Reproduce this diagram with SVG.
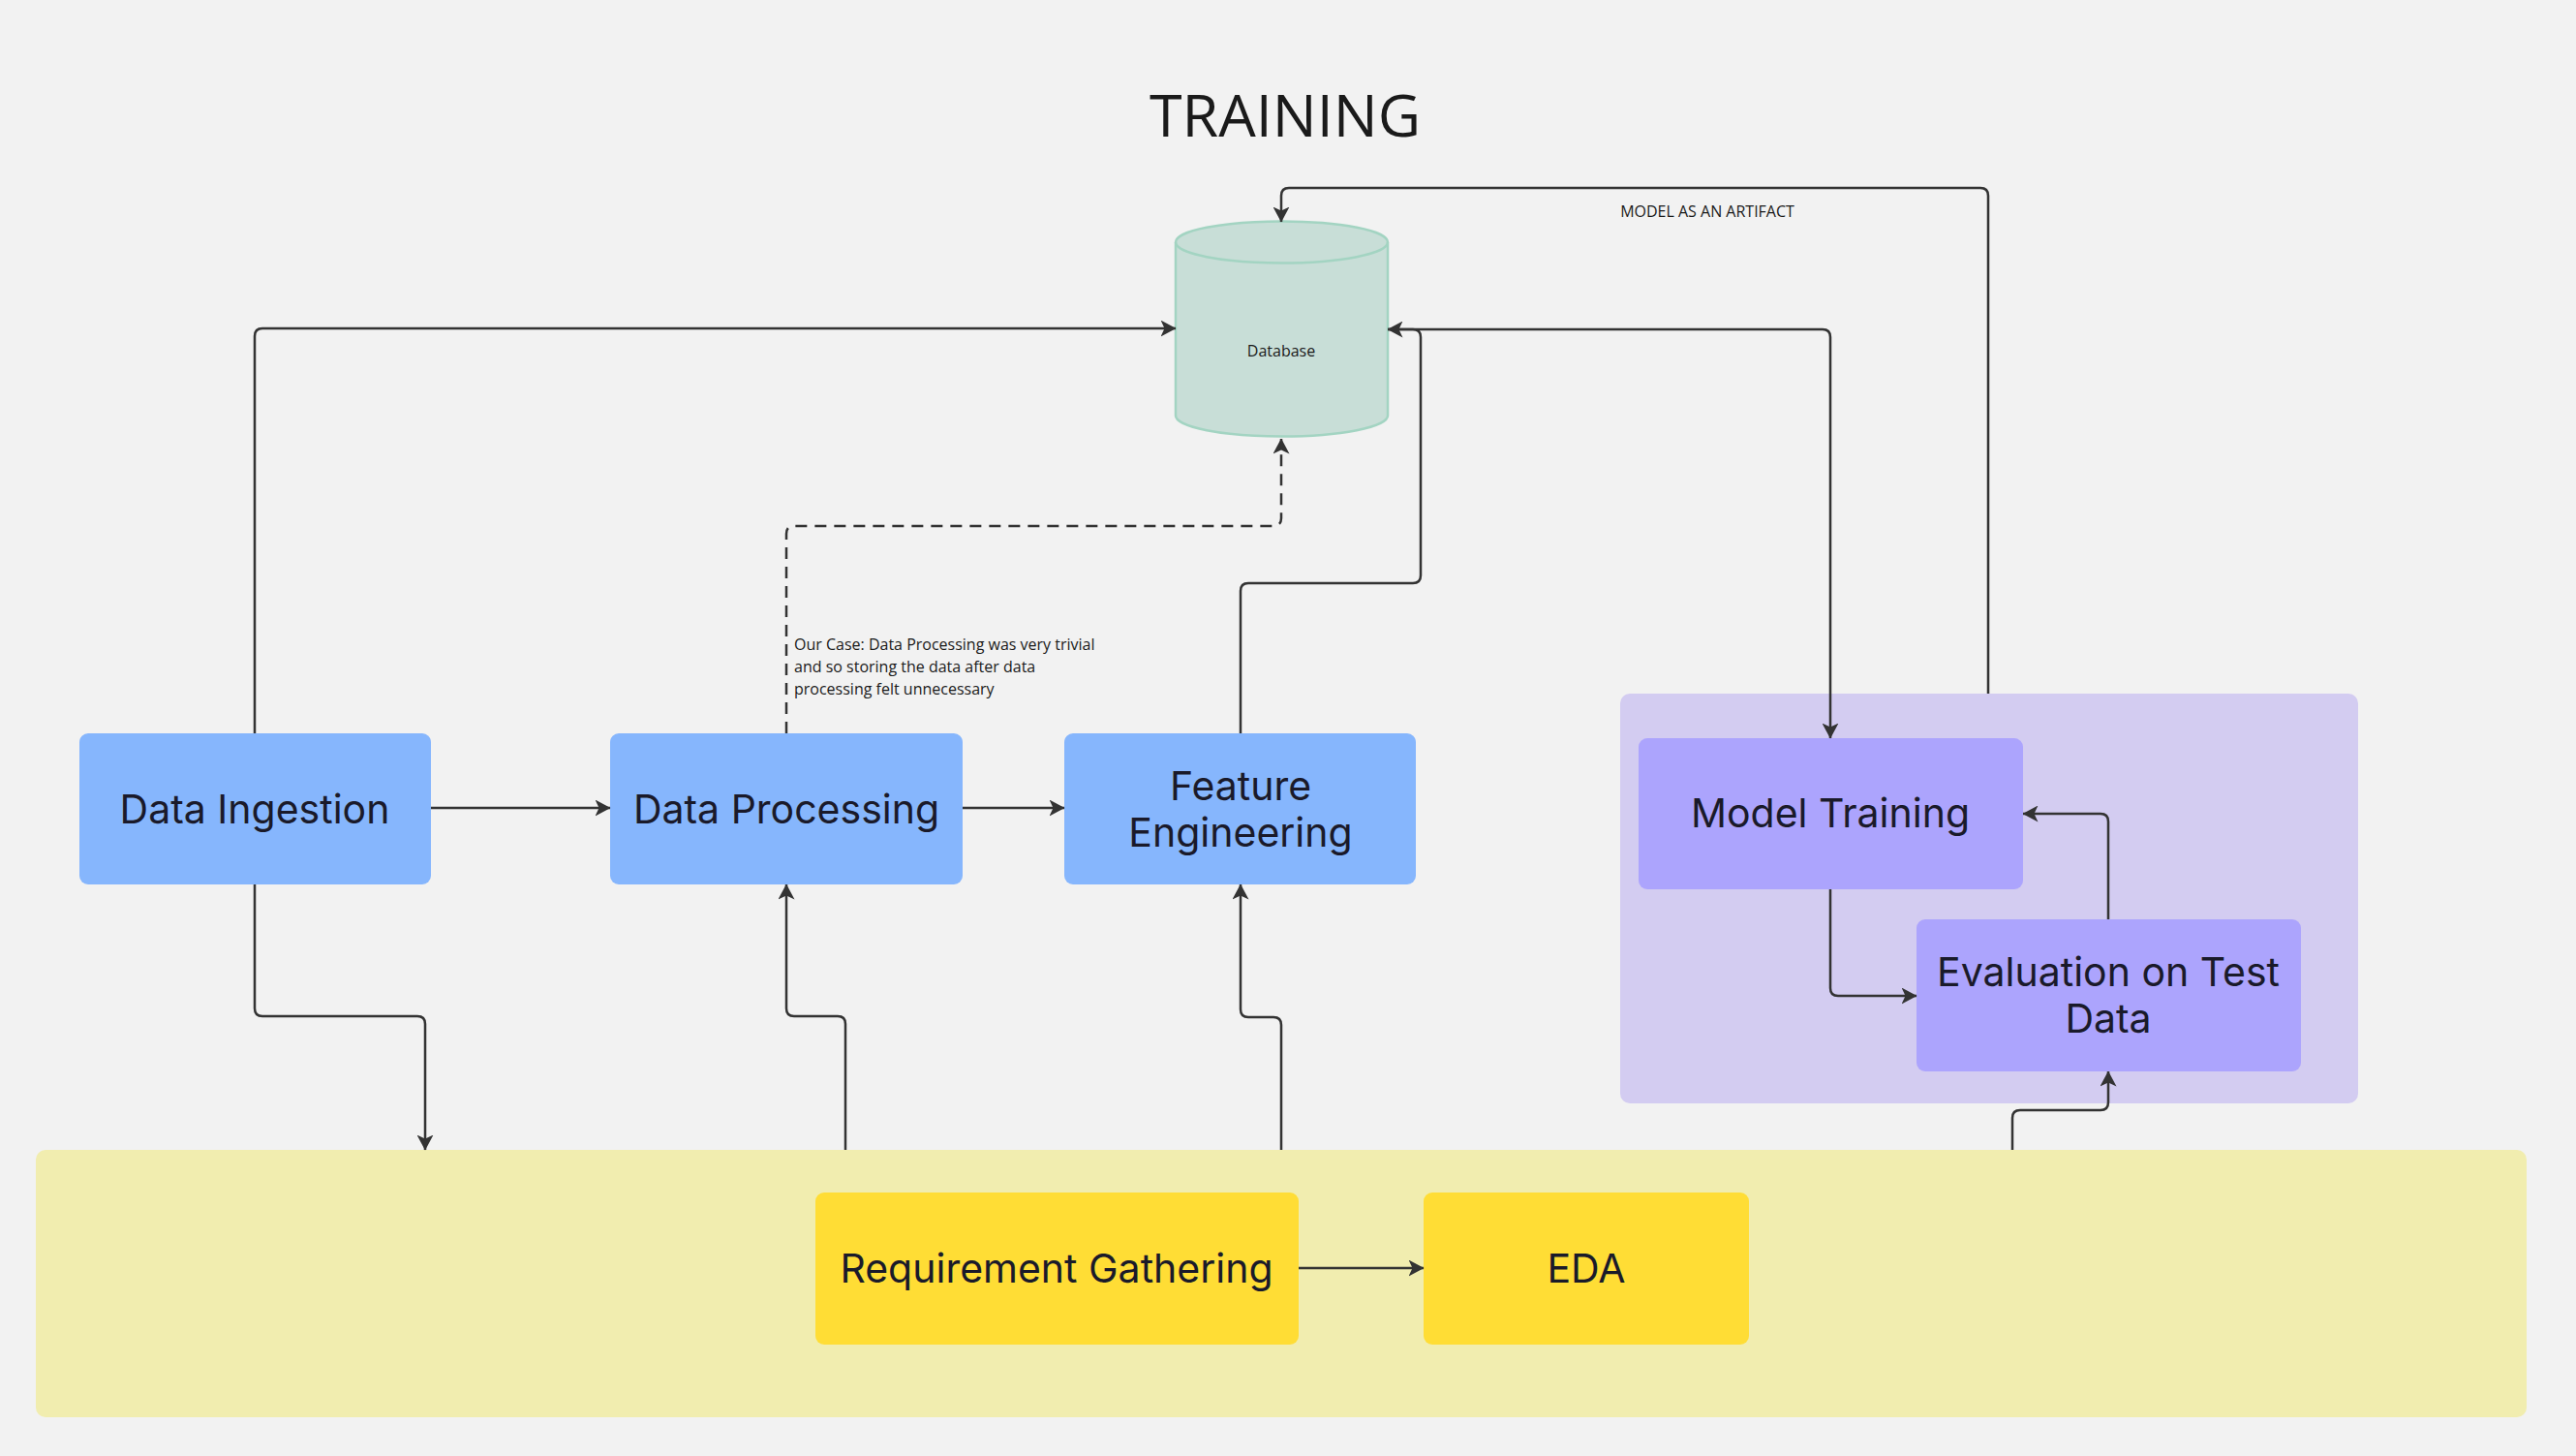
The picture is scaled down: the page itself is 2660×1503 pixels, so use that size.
<svg xmlns="http://www.w3.org/2000/svg" width="2660" height="1503" viewBox="0 0 2660 1503">
<defs>
<marker id="ah" viewBox="0 0 16 17" refX="15.5" refY="8.5" markerWidth="16" markerHeight="17" markerUnits="userSpaceOnUse" orient="auto">
<path d="M0,0 L16,8.5 L0,17 L4,8.5 z" fill="#333333"/>
</marker>
<style>
.bg{fill:#f2f2f2}
.lbl{font-family:Inter,"Noto Sans",sans-serif;font-size:41px;fill:#1a1a2a;text-anchor:middle}
.blue{fill:#86b6fd}
.purple{fill:#aca4fd}
.yellow{fill:#ffdd35}
.c{fill:none;stroke:#333333;stroke-width:2.5;marker-end:url(#ah)}
.dash{stroke-dasharray:12 8}
.small{font-family:"Open Sans",sans-serif;fill:#1a1a1a}
</style>
</defs>
<rect class="bg" x="0" y="0" width="2660" height="1503"/>
<text class="small" x="1327" y="141" font-size="61" text-anchor="middle">TRAINING</text>

<g id="training-group">
<rect x="1673" y="716" width="762" height="423" rx="10" fill="#d3ccf1"/>
</g>
<g id="eda-group">
<rect x="37" y="1187" width="2572" height="276" rx="10" fill="#f1edaf"/>
</g>

<g id="database">
<path d="M1214,250 V429 A109.5,21.5 0 0 0 1433,429 V250 A109.5,21.5 0 0 0 1214,250 Z" fill="#c8ded7" stroke="#a3d4c2" stroke-width="2.5"/>
<path d="M1214,250 A109.5,21.5 0 0 0 1433,250" fill="none" stroke="#a3d4c2" stroke-width="2.5"/>
<text class="small" x="1323" y="368" font-size="16" text-anchor="middle">Database</text>
</g>

<g id="data-ingestion">
<rect class="blue" x="82" y="757" width="363" height="156" rx="9"/>
<text class="lbl" x="263" y="850">Data Ingestion</text>
</g>
<g id="data-processing">
<rect class="blue" x="630" y="757" width="364" height="156" rx="9"/>
<text class="lbl" x="812" y="850">Data Processing</text>
</g>
<g id="feature-engineering">
<rect class="blue" x="1099" y="757" width="363" height="156" rx="9"/>
<text class="lbl" x="1281" y="826">Feature</text>
<text class="lbl" x="1281" y="874">Engineering</text>
</g>
<g id="model-training">
<rect class="purple" x="1692" y="762" width="397" height="156" rx="9"/>
<text class="lbl" x="1890" y="854">Model Training</text>
</g>
<g id="evaluation">
<rect class="purple" x="1979" y="949" width="397" height="157" rx="9"/>
<text class="lbl" x="2177" y="1018">Evaluation on Test</text>
<text class="lbl" x="2177" y="1066">Data</text>
</g>
<g id="requirement-gathering">
<rect class="yellow" x="842" y="1231" width="499" height="157" rx="9"/>
<text class="lbl" x="1091" y="1324">Requirement Gathering</text>
</g>
<g id="eda">
<rect class="yellow" x="1470" y="1231" width="336" height="157" rx="9"/>
<text class="lbl" x="1638" y="1324">EDA</text>
</g>

<g id="connectors">
<path class="c" d="M263,757 V347 Q263,339 271,339 H1214"/>
<path class="c" d="M263,913 V1041 Q263,1049 271,1049 H431 Q439,1049 439,1057 V1187"/>
<path class="c" d="M873,1187 V1057 Q873,1049 865,1049 H820 Q812,1049 812,1041 V913"/>
<path class="c" d="M1323,1187 V1058 Q1323,1050 1315,1050 H1289 Q1281,1050 1281,1042 V913"/>
<path class="c dash" d="M812,757 V551 Q812,543 820,543 H1315 Q1323,543 1323,535 V453"/>
<path class="c" d="M1281,757 V610 Q1281,602 1289,602 H1459 Q1467,602 1467,594 V348 Q1467,340 1459,340 H1433"/>
<path class="c" d="M1433,340 H1882 Q1890,340 1890,348 V762"/>
<path class="c" d="M2053,716 V202 Q2053,194 2045,194 H1331 Q1323,194 1323,202 V229"/>
<path class="c" d="M445,834 H630"/>
<path class="c" d="M994,834 H1099"/>
<path class="c" d="M1890,918 V1020 Q1890,1028 1898,1028 H1979"/>
<path class="c" d="M2177,949 V848 Q2177,840 2169,840 H2089"/>
<path class="c" d="M2078,1187 V1154 Q2078,1146 2086,1146 H2169 Q2177,1146 2177,1138 V1106"/>
<path class="c" d="M1341,1309 H1470"/>
<text class="small" x="1763" y="224" font-size="16" text-anchor="middle">MODEL AS AN ARTIFACT</text>
<text class="small" font-size="16">
<tspan x="820" y="671">Our Case: Data Processing was very trivial</tspan>
<tspan x="820" y="694">and so storing the data after data</tspan>
<tspan x="820" y="717">processing felt unnecessary</tspan>
</text>
</g>
</svg>
